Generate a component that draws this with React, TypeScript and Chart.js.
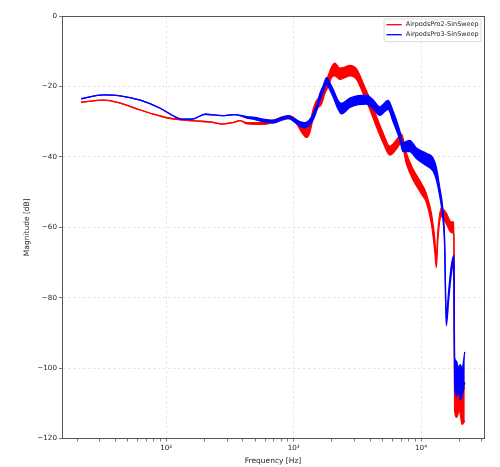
import React, { useEffect, useRef } from 'react';
import { Chart, registerables } from 'chart.js';

Chart.register(...registerables);

const seriesNames = ['AirpodsPro2-SinSweep', 'AirpodsPro3-SinSweep'];
const seriesColors = ['#ff0000', '#0000ff'];

// AirpodsPro2 (red): frequency [Hz], upper / lower envelope [dB]
const p2Freq = [21.5, 32.3, 42.3, 62.5, 79.6, 101, 133, 185, 221, 273, 337, 380, 428, 578, 714, 829, 935, 1055, 1155, 1265, 1342, 1423, 1513, 1656, 1758, 1866, 1985, 2105, 2305, 2522, 2761, 3114, 3508, 3961, 4467, 5036, 5680, 6410, 7015, 7677, 8650, 10050, 11010, 12050, 12790, 13190, 13560, 14420, 15780, 17260, 18100, 18330, 19000, 20000, 21000, 22050];
const p2Hi = [-24.5, -23.9, -24.6, -26.7, -27.9, -28.9, -29.5, -29.9, -30.1, -30.7, -30.2, -29.7, -30.3, -30.3, -29.4, -28.6, -28.4, -29.6, -31, -32, -30.5, -26.5, -24, -22.5, -19.5, -17, -14.5, -13.4, -14.8, -14.5, -14, -15, -19, -23.5, -28.5, -33.2, -37, -35.2, -33.5, -39, -43.5, -47.5, -50.5, -56, -63, -68.5, -61, -54.5, -56, -58.5, -58.5, -102, -101, -103, -104, -106];
const p2Lo = [-24.5, -23.9, -24.6, -26.7, -27.9, -28.9, -29.5, -29.9, -30.1, -30.7, -30.2, -29.7, -30.6, -30.8, -30.0, -29.2, -29.2, -30.6, -33, -34.5, -33, -29, -26.5, -25, -22, -20, -17.5, -17, -18, -17.5, -17, -18, -22, -26.5, -31.5, -36, -39.5, -37.8, -36, -42, -46.5, -50.5, -53, -59, -66.5, -71.5, -63.5, -57, -59, -61.5, -62, -112, -114, -112, -116, -115];

// AirpodsPro3 (blue): frequency [Hz], upper / lower envelope [dB]
const p3Freq = [21.5, 32.3, 42.3, 62.5, 89.7, 114, 133, 159, 202, 273, 347, 428, 498, 578, 692, 805, 907, 1023, 1120, 1225, 1342, 1423, 1513, 1607, 1706, 1813, 1923, 2043, 2235, 2375, 2761, 3205, 3730, 4200, 4740, 5510, 6030, 6800, 7210, 8140, 9190, 11010, 12400, 13190, 13990, 14840, 15300, 15780, 16530, 17260, 18100, 18330, 19000, 19600, 20300, 20950, 22050];
const p3Hi = [-23.5, -22.4, -22.6, -23.9, -26.2, -28.4, -29.3, -29.3, -27.9, -28.3, -28.0, -28.6, -28.8, -29.3, -29.6, -28.8, -28.3, -29.2, -30.0, -30.3, -29.3, -27.8, -25.5, -22, -19.8, -17.5, -19, -20.8, -24, -24.8, -23.3, -22.6, -22.5, -23.8, -25.8, -24, -27, -32.5, -36, -35.3, -37.5, -39, -40.3, -43, -48.5, -55, -63, -85, -77.5, -71, -68, -97, -98, -100, -99, -100, -95.4];
const p3Lo = [-23.5, -22.4, -22.6, -23.9, -26.2, -28.4, -29.3, -29.3, -27.9, -28.3, -28.0, -29.0, -29.4, -30.1, -30.4, -29.6, -29.1, -30.2, -31.3, -31.8, -30.8, -29.5, -27, -24, -21.5, -19.5, -21, -23, -26.5, -27.8, -26, -25.2, -25, -26.3, -28.2, -26.5, -30, -35, -38.5, -38.5, -40.5, -42.5, -44, -46.5, -51, -57.5, -65, -88, -80, -73.5, -70.5, -104, -108, -106, -109, -108, -104];

// axis ticks
const xMajorTicks = [100, 1000, 10000];
const xMinorTicks = [20, 30, 40, 50, 60, 70, 80, 90, 200, 300, 400, 500, 600, 700, 800, 900, 2000, 3000, 4000, 5000, 6000, 7000, 8000, 9000, 20000, 30000];
const xRange = [15.2, 31200];
const yRange = [-120, 0];
const yStep = 20;

const FONT = "'DejaVu Sans', sans-serif";
const TEXT = '#262626';
const AX = '#555555';
const GRID = '#dedede';
const LW = 1.3;

const SUP: Record<string, string> = { '0': '⁰', '1': '¹', '2': '²', '3': '³', '4': '⁴', '5': '⁵' };

function pts(f: number[], v: number[]) {
  return f.map((x, i) => ({ x, y: v[i] }));
}

function align(p: number) {
  return Math.round(p - 0.5) + 0.5;
}

const framePlugin = {
  id: 'frame',
  afterDatasetsDraw(chart: any) {
    const { ctx, chartArea: a } = chart;
    ctx.save();
    ctx.strokeStyle = AX;
    ctx.lineWidth = 1;
    const l = align(a.left), r = align(a.right), t = align(a.top), b = align(a.bottom);
    ctx.strokeRect(l, t, r - l, b - t);
    ctx.restore();
  },
};

const legendPlugin = {
  id: 'mplLegend',
  afterDraw(chart: any) {
    const { ctx, chartArea: a } = chart;
    const fs = 6.5;
    ctx.save();
    ctx.font = `${fs}px ${FONT}`;
    const tw = Math.max(...seriesNames.map((n) => ctx.measureText(n).width));
    const lineLen = 15.3, gap = 4, padL = 2.4, padR = 2.3, rowH = 10, padT = 5.7, padB = 7;
    const w = padL + lineLen + gap + tw + padR;
    const h = padT + rowH * (seriesNames.length - 1) + padB;
    const right = a.right - 3;
    const top = a.top + 3;
    const left = right - w;
    ctx.beginPath();
    if ((ctx as any).roundRect) (ctx as any).roundRect(left, top, w, h, 2);
    else ctx.rect(left, top, w, h);
    ctx.fillStyle = 'rgba(255,255,255,0.8)';
    ctx.fill();
    ctx.strokeStyle = '#d0d0d0';
    ctx.lineWidth = 0.8;
    ctx.stroke();
    seriesNames.forEach((n, i) => {
      const y = top + padT + i * rowH;
      ctx.beginPath();
      ctx.strokeStyle = seriesColors[i];
      ctx.lineWidth = 1.3;
      ctx.moveTo(left + padL, y);
      ctx.lineTo(left + padL + lineLen, y);
      ctx.stroke();
      ctx.fillStyle = TEXT;
      ctx.textBaseline = 'middle';
      ctx.textAlign = 'left';
      ctx.fillText(n, left + padL + lineLen + gap, y);
    });
    ctx.restore();
  },
};

function fmtY(v: number) {
  return v < 0 ? '\u2212' + Math.abs(v) : String(v);
}

function fmtX(v: number) {
  if (!xMajorTicks.includes(v)) return '';
  const e = String(Math.round(Math.log10(v)));
  return '10' + e.split('').map((c) => SUP[c] || c).join('');
}

export default function App() {
  const ref = useRef<HTMLCanvasElement | null>(null);

  useEffect(() => {
    document.body.style.margin = '0';
    if (!ref.current) return;
    const base = { pointRadius: 0, pointHoverRadius: 0, borderWidth: LW, cubicInterpolationMode: 'monotone' };
    const chart = new Chart(ref.current, {
      type: 'line',
      data: {
        datasets: [
          { ...base, label: seriesNames[0], data: pts(p2Freq, p2Hi), borderColor: seriesColors[0], backgroundColor: seriesColors[0], fill: false, order: 2 },
          { ...base, label: seriesNames[0] + ' lo', data: pts(p2Freq, p2Lo), borderColor: seriesColors[0], backgroundColor: seriesColors[0], fill: '-1', order: 2 },
          { ...base, label: seriesNames[1], data: pts(p3Freq, p3Hi), borderColor: seriesColors[1], backgroundColor: seriesColors[1], fill: false, order: 1 },
          { ...base, label: seriesNames[1] + ' lo', data: pts(p3Freq, p3Lo), borderColor: seriesColors[1], backgroundColor: seriesColors[1], fill: '-1', order: 1 },
        ] as any,
      },
      options: {
        responsive: false,
        animation: false,
        layout: { padding: { top: 16, right: 16, left: 0, bottom: 0 } },
        plugins: { legend: { display: false }, tooltip: { enabled: false } },
        elements: { line: { borderJoinStyle: 'round', borderCapStyle: 'butt' } },
        scales: {
          x: {
            type: 'logarithmic',
            min: xRange[0],
            max: xRange[1],
            afterBuildTicks: (s: any) => {
              s.ticks = [...xMajorTicks, ...xMinorTicks]
                .sort((p, q) => p - q)
                .map((v) => ({ value: v, major: xMajorTicks.includes(v) }));
            },
            afterFit: (s: any) => {
              s.height = 28.5;
            },
            ticks: {
              autoSkip: false,
              maxRotation: 0,
              minRotation: 0,
              padding: 2.2,
              color: TEXT,
              font: { family: FONT, size: 7.2 },
              callback: (v: any) => fmtX(Number(v)),
            },
            grid: {
              color: (c: any) => (c.tick && c.tick.major ? GRID : 'rgba(0,0,0,0)'),
              lineWidth: 0.8,
              tickColor: AX,
              tickLength: 3,
              tickWidth: 0.8,
              drawTicks: true,
            },
            border: { display: true, color: AX, width: 1, dash: [2.5, 2.5] },
            title: {
              display: true,
              text: 'Frequency [Hz]',
              color: TEXT,
              font: { family: FONT, size: 7.5 },
              padding: { top: 0, bottom: 1.5 },
            },
          },
          y: {
            type: 'linear',
            min: yRange[0],
            max: yRange[1],
            afterFit: (s: any) => {
              s.width = 62;
            },
            ticks: {
              stepSize: yStep,
              padding: 2,
              color: TEXT,
              font: { family: FONT, size: 7.2 },
              callback: (v: any) => fmtY(Number(v)),
            },
            grid: {
              color: GRID,
              lineWidth: 0.8,
              tickColor: AX,
              tickLength: 3,
              tickWidth: 0.8,
              drawTicks: true,
            },
            border: { display: true, color: AX, width: 1, dash: [2.5, 2.5] },
            title: {
              display: true,
              text: 'Magnitude [dB]',
              color: TEXT,
              font: { family: FONT, size: 7.5 },
              padding: { top: 22.5, bottom: 0 },
            },
          },
        },
      } as any,
      plugins: [framePlugin, legendPlugin],
    });
    return () => chart.destroy();
  }, []);

  return (
    <div style={{ position: 'absolute', left: 0, top: 0, width: 500, height: 467, background: '#fff' }}>
      <canvas ref={ref} width={500} height={467} style={{ width: 500, height: 467, display: 'block' }} />
    </div>
  );
}
